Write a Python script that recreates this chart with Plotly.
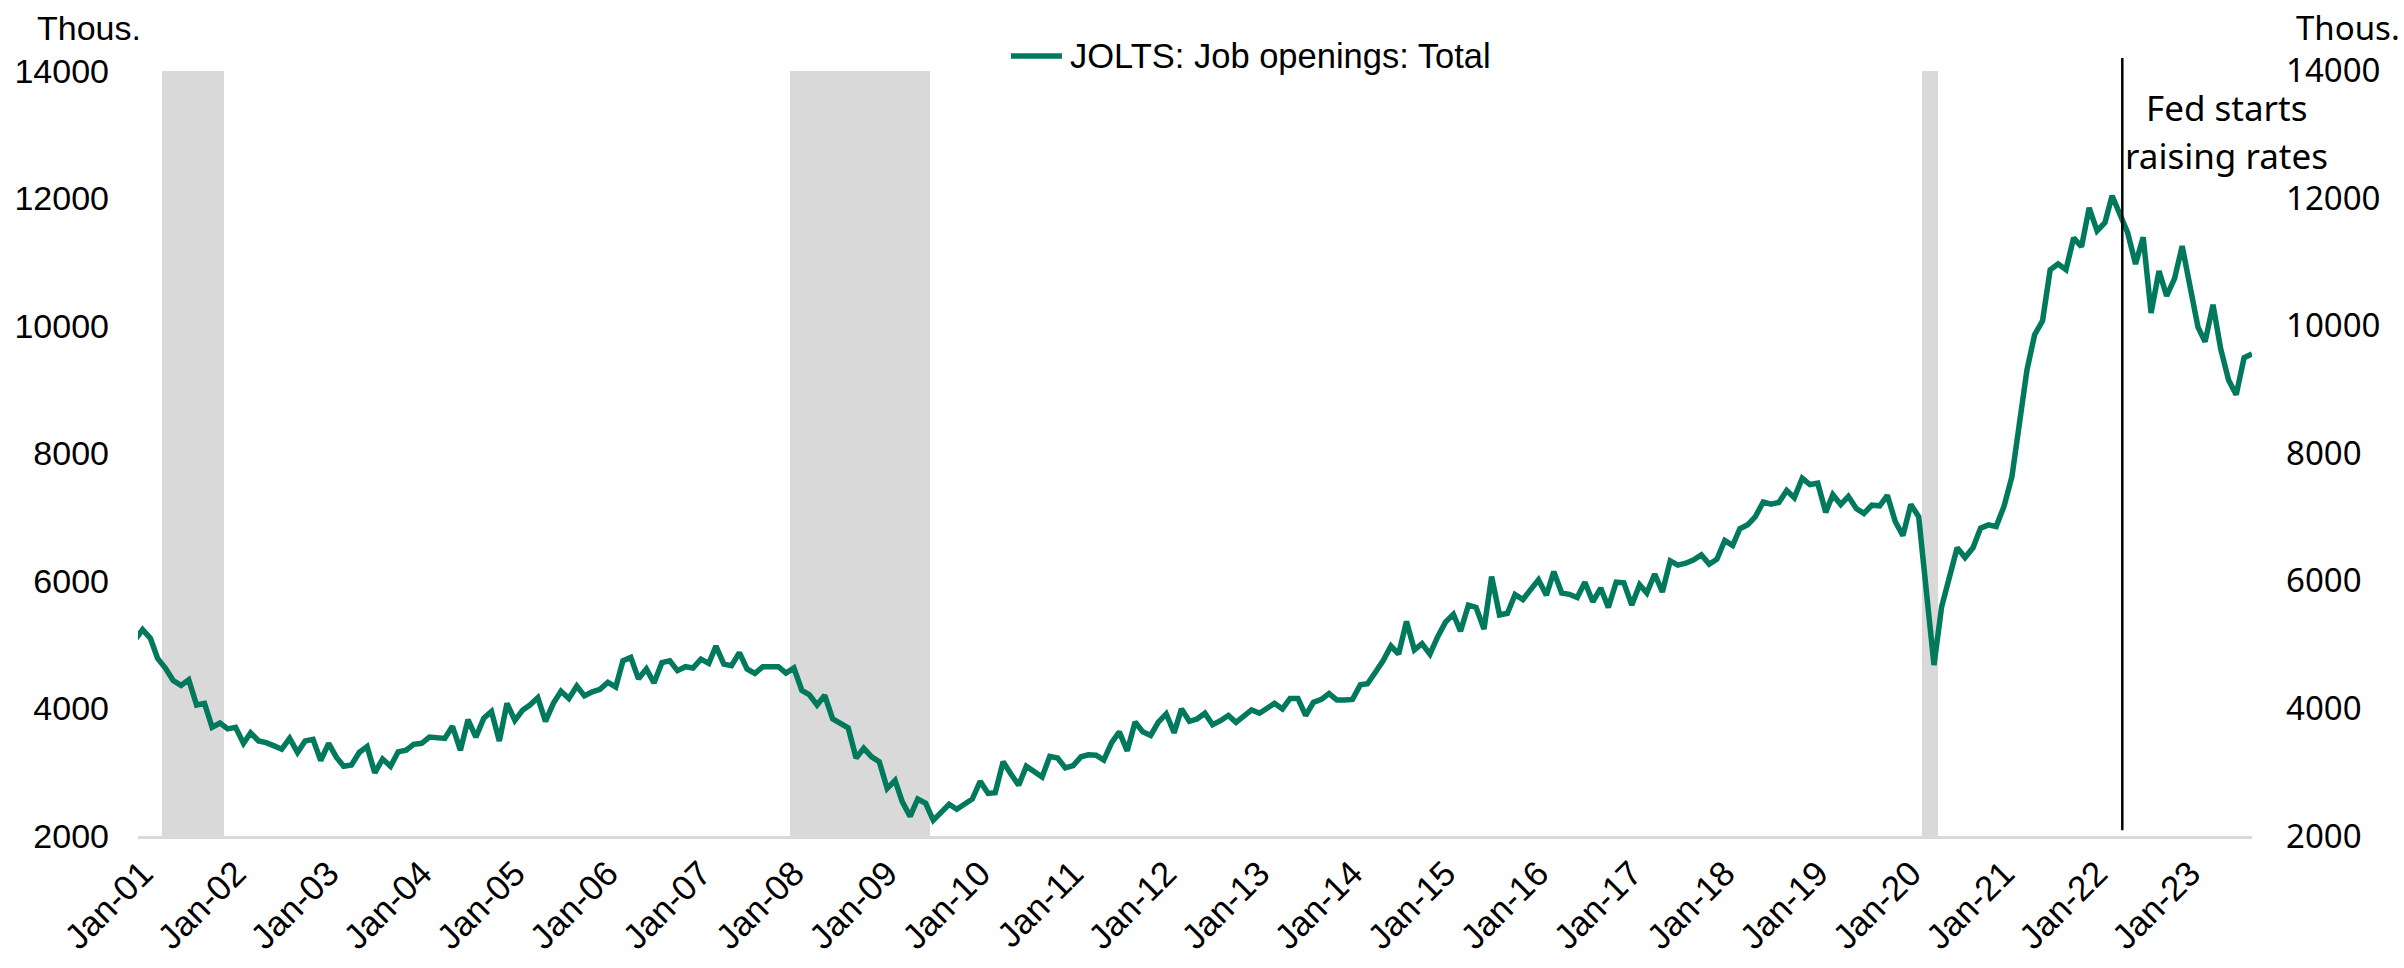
import pandas as pd
import plotly.graph_objects as go

# ---------------- data (thousands) ----------------
start_month = "2000-12-01"
openings_2000 = [5070]
openings_2001 = [5236, 5097, 4784, 4630, 4439, 4362, 4450, 4054, 4080, 3705, 3772, 3680]
openings_2002 = [3705, 3453, 3618, 3490, 3464, 3413, 3361, 3530, 3310, 3490, 3515, 3181]
openings_2003 = [3453, 3233, 3094, 3114, 3310, 3402, 2991, 3207, 3094, 3320, 3345, 3438]
openings_2004 = [3453, 3551, 3541, 3530, 3721, 3345, 3823, 3551, 3849, 3952, 3490, 4080]
openings_2005 = [3813, 3977, 4054, 4168, 3798, 4080, 4270, 4157, 4352, 4198, 4260, 4300]
openings_2006 = [4410, 4337, 4747, 4800, 4465, 4619, 4399, 4720, 4747, 4593, 4655, 4634]
openings_2007 = [4773, 4706, 4978, 4696, 4670, 4875, 4619, 4550, 4655, 4655, 4655, 4555]
openings_2008 = [4634, 4285, 4219, 4054, 4206, 3838, 3757, 3695, 3222, 3375, 3241, 3164]
openings_2009 = [2744, 2872, 2539, 2308, 2580, 2513, 2246, 2360, 2497, 2420, 2503, 2580]
openings_2010 = [2857, 2667, 2678, 3164, 2975, 2796, 3094, 3012, 2925, 3248, 3222, 3068]
openings_2011 = [3104, 3243, 3274, 3268, 3191, 3464, 3633, 3335, 3787, 3633, 3577, 3787]
openings_2012 = [3916, 3618, 3993, 3798, 3834, 3926, 3746, 3808, 3890, 3782, 3885, 3977]
openings_2013 = [3926, 4013, 4080, 3993, 4157, 4157, 3890, 4096, 4142, 4234, 4131, 4131]
openings_2014 = [4142, 4373, 4388, 4568, 4748, 4979, 4851, 5364, 4917, 5015, 4851, 5123]
openings_2015 = [5354, 5477, 5210, 5621, 5585, 5246, 6068, 5467, 5493, 5786, 5708, 5863]
openings_2016 = [6017, 5775, 6145, 5811, 5790, 5739, 5980, 5672, 5888, 5585, 5980, 5970]
openings_2017 = [5621, 5940, 5811, 6109, 5826, 6314, 6248, 6278, 6330, 6407, 6263, 6340]
openings_2018 = [6633, 6556, 6818, 6880, 7008, 7239, 7203, 7229, 7419, 7306, 7609, 7511]
openings_2019 = [7532, 7075, 7352, 7198, 7326, 7136, 7059, 7187, 7177, 7342, 6931, 6710]
openings_2020 = [7198, 7008, 5850, 4681, 5595, 6109, 6520, 6366, 6520, 6828, 6879, 6854]
openings_2021 = [7172, 7640, 8400, 9310, 9860, 10080, 10880, 10970, 10880, 11380, 11240, 11850]
openings_2022 = [11490, 11620, 12040, 11730, 11460, 10970, 11390, 10200, 10860, 10470, 10740, 11250]
openings_2023 = [10630, 9980, 9750, 10330, 9640, 9150, 8920, 9500, 9560]

recession_starts = ["2001-04-01", "2008-01-01", "2020-03-01"]
recession_ends = ["2001-11-01", "2009-06-01", "2020-04-01"]

fed_hike_date = "2022-04-10"
fed_label_lines = ["Fed starts", "raising rates"]

y_ticks = [2000, 4000, 6000, 8000, 10000, 12000, 14000]
series_name = "JOLTS: Job openings: Total"

# ---------------- assemble ----------------
openings = (openings_2000 + openings_2001 + openings_2002 + openings_2003 + openings_2004
            + openings_2005 + openings_2006 + openings_2007 + openings_2008 + openings_2009
            + openings_2010 + openings_2011 + openings_2012 + openings_2013 + openings_2014
            + openings_2015 + openings_2016 + openings_2017 + openings_2018 + openings_2019
            + openings_2020 + openings_2021 + openings_2022 + openings_2023)
dates = pd.date_range(start_month, periods=len(openings), freq="MS")

rec_months = []
for s, e in zip(recession_starts, recession_ends):
    rec_months += list(pd.date_range(s, e, freq="MS"))

GREEN = "#00795D"
SHADE = "#D9D9D9"
ARIAL = "Arial, Liberation Sans, sans-serif"
SEGOE = "Noto Sans, Open Sans, sans-serif"

fig = go.Figure()

fig.add_trace(go.Bar(
    x=rec_months, y=[y_ticks[-1] - y_ticks[0]] * len(rec_months), base=y_ticks[0],
    width=31 * 24 * 3600 * 1000, marker=dict(color=SHADE, line=dict(width=0)),
    showlegend=False, hoverinfo="skip",
))

fig.add_trace(go.Scatter(
    x=dates, y=openings, mode="lines", name=series_name,
    line=dict(color=GREEN, width=5.5), showlegend=False,
))

# vertical marker on the right-hand axis (same scale) so that axis is drawn
fig.add_trace(go.Scatter(
    x=[fed_hike_date, fed_hike_date], y=[2090, 14200], mode="lines", yaxis="y2",
    line=dict(color="black", width=2.5), showlegend=False, hoverinfo="skip",
))

L, R, T, B = 138, 152, 58, 118
W, H = 2404, 968
pw, ph = W - L - R, H - T - B


def px_x(px):
    return (px - L) / pw


def px_y(py):
    return (H - B - py) / ph


annotations = [
    dict(text="Thous.", x=px_x(89), y=px_y(27), xref="paper", yref="paper",
         showarrow=False, font=dict(family=ARIAL, size=34, color="black"),
         xanchor="center", yanchor="middle"),
    dict(text="Thous.", x=px_x(2348), y=px_y(27), xref="paper", yref="paper",
         showarrow=False, font=dict(family=SEGOE, size=33, color="black"),
         xanchor="center", yanchor="middle"),
    dict(text=fed_label_lines[0], x=px_x(2226), y=px_y(108), xref="paper", yref="paper",
         showarrow=False, font=dict(family=SEGOE, size=35, color="black"),
         xanchor="center", yanchor="middle"),
    dict(text=fed_label_lines[1], x=px_x(2226), y=px_y(157), xref="paper", yref="paper",
         showarrow=False, font=dict(family=SEGOE, size=35, color="black"),
         xanchor="center", yanchor="middle"),
    dict(text=series_name, x=px_x(1068), y=px_y(56), xref="paper", yref="paper",
         showarrow=False, font=dict(family=ARIAL, size=34.5, color="black"),
         xanchor="left", yanchor="middle"),
]

shapes = [
    dict(type="line", xref="paper", yref="paper", x0=px_x(1011), x1=px_x(1062),
         y0=px_y(56), y1=px_y(56), line=dict(color=GREEN, width=5.5)),
]

fig.update_layout(
    width=W, height=H,
    margin=dict(l=L, r=R, t=T, b=B, pad=0),
    paper_bgcolor="white", plot_bgcolor="white",
    barmode="overlay", bargap=0,
    showlegend=False,
    annotations=annotations,
    shapes=shapes,
    xaxis=dict(
        type="date", range=["2000-12-14", "2023-09-01"],
        tick0="2001-01-01", dtick="M12", tickformat="%b-%y", tickangle=-45,
        tickfont=dict(family=ARIAL, size=35, color="black"),
        showgrid=False, zeroline=False, ticks="",
        showline=True, linecolor=SHADE, linewidth=2.5,
    ),
    yaxis=dict(
        range=[2000, 14200], tickvals=y_ticks, ticktext=[str(v) for v in y_ticks],
        tickfont=dict(family=ARIAL, size=34, color="black"),
        showgrid=False, zeroline=False, showline=False, ticks="",
        ticklabelstandoff=28,
    ),
    yaxis2=dict(
        range=[2000, 14200], tickvals=y_ticks, ticktext=[str(v) for v in y_ticks],
        tickfont=dict(family=SEGOE, size=33, color="black"),
        overlaying="y", side="right", anchor="x",
        showgrid=False, zeroline=False, showline=False, ticks="",
        ticklabelstandoff=33,
    ),
)

fig.write_html("out.html", post_script="document.body.style.margin='0';",
               config={"displayModeBar": False})
